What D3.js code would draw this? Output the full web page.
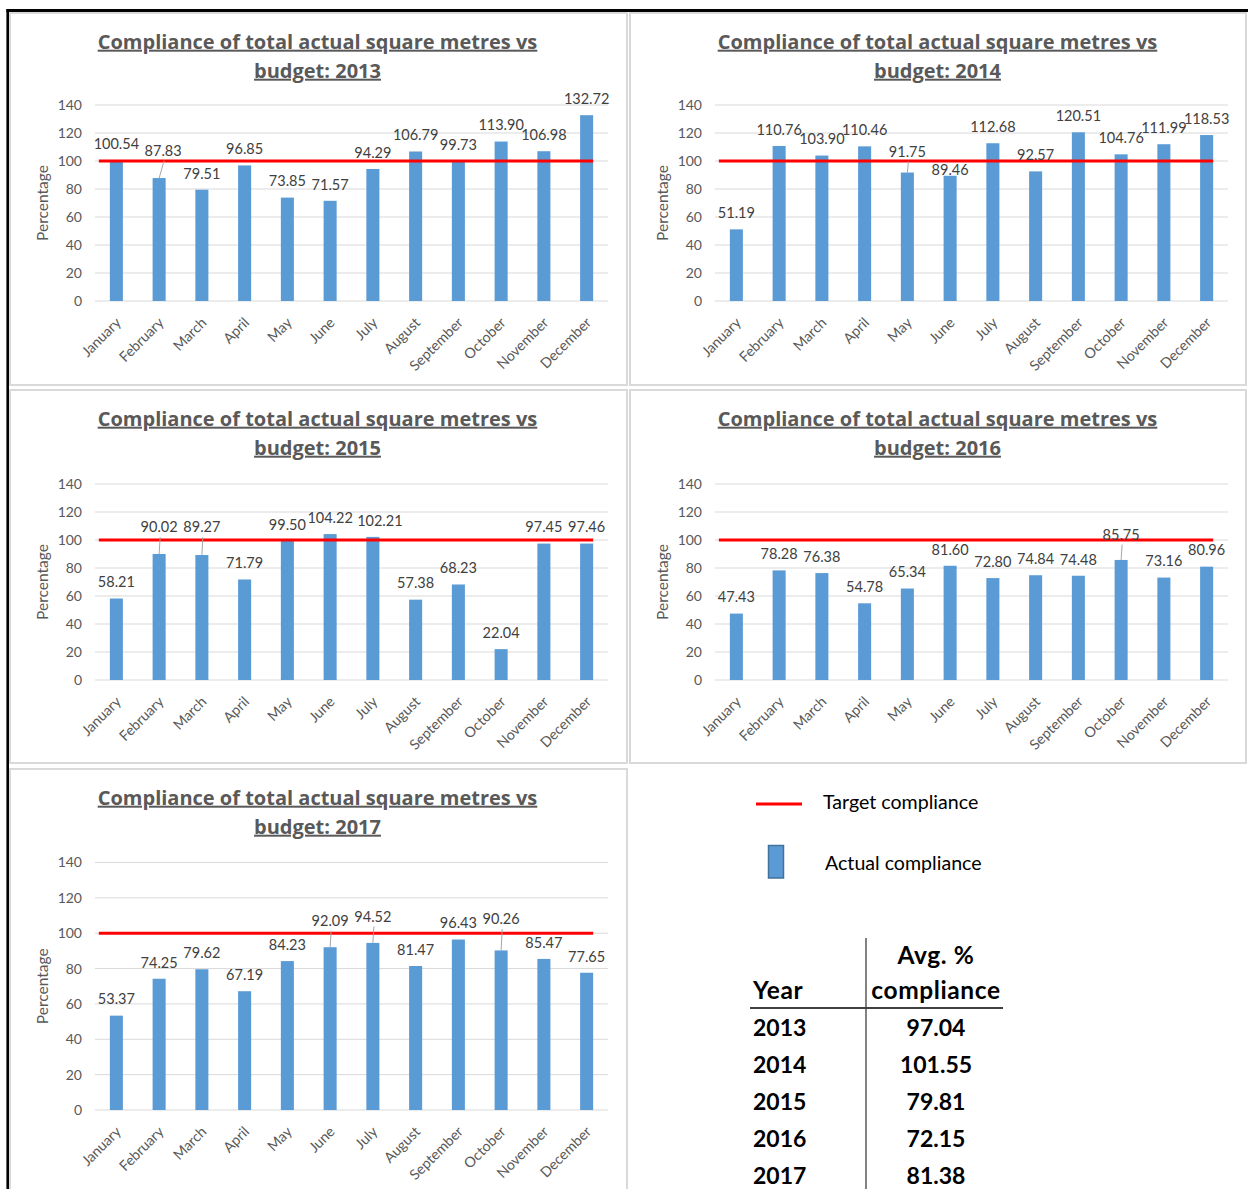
<!DOCTYPE html>
<html>
<head>
<meta charset="utf-8">
<script src="https://cdn.jsdelivr.net/npm/d3@7"></script>
<style>
  html, body { margin: 0; padding: 0; background: #fff; }
  svg { display: block; }
</style>
</head>
<body>
<svg id="chart" width="1248" height="1189"></svg>
<script>
// ---- data ----
const months = ["January", "February", "March", "April", "May", "June",
                "July", "August", "September", "October", "November", "December"];
const years = [2013, 2014, 2015, 2016, 2017];
const actual2013 = [100.54, 87.83, 79.51, 96.85, 73.85, 71.57, 94.29, 106.79, 99.73, 113.90, 106.98, 132.72];
const actual2014 = [51.19, 110.76, 103.90, 110.46, 91.75, 89.46, 112.68, 92.57, 120.51, 104.76, 111.99, 118.53];
const actual2015 = [58.21, 90.02, 89.27, 71.79, 99.50, 104.22, 102.21, 57.38, 68.23, 22.04, 97.45, 97.46];
const actual2016 = [47.43, 78.28, 76.38, 54.78, 65.34, 81.60, 72.80, 74.84, 74.48, 85.75, 73.16, 80.96];
const actual2017 = [53.37, 74.25, 79.62, 67.19, 84.23, 92.09, 94.52, 81.47, 96.43, 90.26, 85.47, 77.65];
const targetCompliance = 100;
const yTicks = [0, 20, 40, 60, 80, 100, 120, 140];
const avgCompliance = [97.04, 101.55, 79.81, 72.15, 81.38];

const seriesByYear = {2013: actual2013, 2014: actual2014, 2015: actual2015, 2016: actual2016, 2017: actual2017};

// ---- layout ----
const FONT = "Lato, 'Open Sans', sans-serif";
const TITLE_FONT = "'Open Sans', Lato, sans-serif";
const BAR = "#5B9BD5";
const TARGET = "#FF0000";
const GRID = "#D9D9D9";

const panels = [
  {year: 2013, left: 10,  top: 13,  width: 617, height: 372, plotTop: 105,   plotBottom: 301},
  {year: 2014, left: 630, top: 13,  width: 616, height: 372, plotTop: 105,   plotBottom: 301},
  {year: 2015, left: 10,  top: 390, width: 617, height: 373, plotTop: 484,   plotBottom: 680},
  {year: 2016, left: 630, top: 390, width: 616, height: 373, plotTop: 484,   plotBottom: 680},
  {year: 2017, left: 10,  top: 769, width: 617, height: 430, plotTop: 862.5, plotBottom: 1110}
];

// data labels that sit away from their default spot (pixel offsets), some with leader lines
const labelNudge = {
  2013: {1: {dx: 4, dy: -11, leader: true}},
  2014: {4: {dy: -4.5, leader: true}, 5: {dy: 10}},
  2015: {1: {dy: -10.5, leader: true}, 2: {dy: -11.5, leader: true}, 6: {dx: 7}},
  2016: {9: {dy: -9, leader: true}},
  2017: {5: {dy: -10, leader: true}, 6: {dy: -10, leader: true}, 9: {dy: -15, leader: true}}
};

const svg = d3.select("#chart");
const fmt = d3.format(".2f");

// outer frame (top and left rules)
svg.append("line").attr("x1", 6.4).attr("x2", 1248).attr("y1", 10.5).attr("y2", 10.5)
  .attr("stroke", "#000").attr("stroke-width", 3);
svg.append("line").attr("x1", 7.7).attr("x2", 7.7).attr("y1", 9).attr("y2", 1189)
  .attr("stroke", "#000").attr("stroke-width", 2.6);

panels.forEach(p => {
  const values = seriesByYear[p.year];
  const g = svg.append("g");

  g.append("rect")
    .attr("x", p.left).attr("y", p.top).attr("width", p.width).attr("height", p.height)
    .attr("fill", "#fff").attr("stroke", GRID).attr("stroke-width", 2);

  const x = d3.scaleBand().domain(months)
    .range([p.left + 85, p.left + 598])
    .paddingInner(0.695).paddingOuter(0.3475);
  const y = d3.scaleLinear().domain([0, 140]).range([p.plotBottom, p.plotTop]);

  // title
  const cx = p.left + 307.5;
  const title = g.append("text")
    .attr("font-family", TITLE_FONT).attr("font-weight", "bold").attr("font-size", 20)
    .attr("fill", "#595959").attr("text-anchor", "middle")
    .style("text-decoration", "underline");
  title.append("tspan").attr("x", cx).attr("y", p.top + 28.7).attr("dy", "0.35em")
    .text("Compliance of total actual square metres vs");
  title.append("tspan").attr("x", cx).attr("y", p.top + 57.7).attr("dy", "0.35em")
    .text(`budget: ${p.year}`);

  // gridlines
  g.append("g").selectAll("line").data(yTicks).join("line")
    .attr("x1", x.range()[0]).attr("x2", x.range()[1])
    .attr("y1", d => y(d)).attr("y2", d => y(d))
    .attr("stroke", GRID).attr("stroke-width", 1);

  // y axis
  const yAxis = g.append("g").attr("transform", `translate(${x.range()[0]},0)`)
    .call(d3.axisLeft(y).tickValues(yTicks).tickSize(0).tickPadding(13));
  yAxis.select(".domain").remove();
  yAxis.selectAll("text").attr("font-family", FONT).attr("font-size", 14).attr("fill", "#595959");

  g.append("text")
    .attr("transform", `translate(${p.left + 33},${(p.plotTop + p.plotBottom) / 2}) rotate(-90)`)
    .attr("text-anchor", "middle").attr("dy", "0.35em")
    .attr("font-family", FONT).attr("font-size", 15.5).attr("fill", "#595959")
    .text("Percentage");

  // x axis (month names)
  const xAxis = g.append("g").attr("transform", `translate(0,${p.plotBottom})`)
    .call(d3.axisBottom(x).tickSize(0));
  xAxis.select(".domain").remove();
  xAxis.selectAll("text")
    .attr("font-family", FONT).attr("font-size", 14.3).attr("fill", "#595959")
    .attr("x", 0).attr("y", 0).attr("dy", "0.35em")
    .attr("text-anchor", "end")
    .attr("transform", "translate(2,19) rotate(-45)");

  // bars
  g.append("g").selectAll("rect").data(values).join("rect")
    .attr("x", (d, i) => x(months[i]))
    .attr("width", x.bandwidth())
    .attr("y", d => y(d))
    .attr("height", d => y(0) - y(d))
    .attr("fill", BAR);

  // target line
  g.append("line")
    .attr("x1", x.range()[0] + x.step() * 0.09)
    .attr("x2", x(months[months.length - 1]) + x.bandwidth())
    .attr("y1", y(targetCompliance)).attr("y2", y(targetCompliance))
    .attr("stroke", TARGET).attr("stroke-width", 3);

  // data labels
  const nudges = labelNudge[p.year] || {};
  const labels = values.map((v, i) => {
    const n = nudges[i] || {};
    const bx = x(months[i]) + x.bandwidth() / 2;
    return {v, bx, top: y(v), lx: bx + (n.dx || 0), ly: y(v) - 16.4 + (n.dy || 0), leader: !!n.leader};
  });
  g.append("g").selectAll("line").data(labels.filter(d => d.leader)).join("line")
    .attr("x1", d => d.lx + 1).attr("y1", d => d.ly + 10)
    .attr("x2", d => d.bx).attr("y2", d => d.top)
    .attr("stroke", "#A6A6A6").attr("stroke-width", 1);
  g.append("g").selectAll("text").data(labels).join("text")
    .attr("x", d => d.lx).attr("y", d => d.ly).attr("dy", "0.36em")
    .attr("text-anchor", "middle")
    .attr("font-family", FONT).attr("font-size", 14.5).attr("fill", "#404040")
    .text(d => fmt(d.v));
});

// legend
const legend = svg.append("g");
legend.append("line").attr("x1", 756).attr("x2", 802).attr("y1", 804).attr("y2", 804)
  .attr("stroke", TARGET).attr("stroke-width", 3);
legend.append("text").attr("x", 823).attr("y", 802).attr("dy", "0.35em")
  .attr("font-family", FONT).attr("font-size", 19.6).attr("fill", "#000")
  .text("Target compliance");
legend.append("rect").attr("x", 768.5).attr("y", 845.5).attr("width", 15).attr("height", 32.5)
  .attr("fill", BAR).attr("stroke", "#41719C").attr("stroke-width", 1.5);
legend.append("text").attr("x", 825).attr("y", 863).attr("dy", "0.35em")
  .attr("font-family", FONT).attr("font-size", 19.6).attr("fill", "#000")
  .text("Actual compliance");

// average compliance table
const table = svg.append("g")
  .attr("font-family", FONT).attr("font-weight", "bold").attr("font-size", 23).attr("fill", "#000");
table.append("line").attr("x1", 866).attr("x2", 866).attr("y1", 938).attr("y2", 1189)
  .attr("stroke", "#404040").attr("stroke-width", 1.3);
table.append("line").attr("x1", 750).attr("x2", 1003).attr("y1", 1008).attr("y2", 1008)
  .attr("stroke", "#404040").attr("stroke-width", 2);
const header = table.append("g").attr("font-size", 24.5).attr("letter-spacing", 0.6);
header.append("text").attr("x", 936).attr("y", 955).attr("dy", "0.35em").attr("text-anchor", "middle").text("Avg. %");
header.append("text").attr("x", 936).attr("y", 990).attr("dy", "0.35em").attr("text-anchor", "middle").text("compliance");
header.append("text").attr("x", 753).attr("y", 990).attr("dy", "0.35em").text("Year");
const rowY = d3.scaleLinear().domain([0, years.length - 1]).range([1027.5, 1175.5]);
table.selectAll(".yr").data(years).join("text").attr("class", "yr")
  .attr("x", 753).attr("y", (d, i) => rowY(i)).attr("dy", "0.35em").text(d => d);
table.selectAll(".avg").data(avgCompliance).join("text").attr("class", "avg")
  .attr("x", 936).attr("y", (d, i) => rowY(i)).attr("dy", "0.35em").attr("text-anchor", "middle")
  .text(d => fmt(d));
</script>
</body>
</html>
